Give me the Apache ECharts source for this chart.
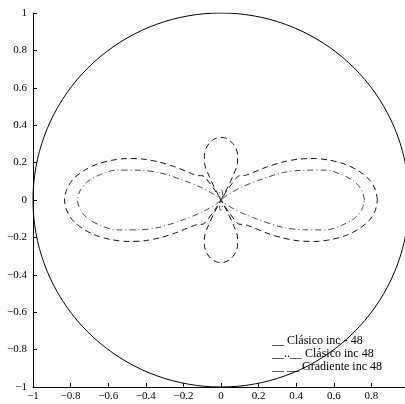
<!DOCTYPE html>
<html>
<head>
<meta charset="utf-8">
<script src="https://cdn.jsdelivr.net/npm/echarts@6/dist/echarts.min.js"></script>
<style>
  html, body { margin: 0; padding: 0; background: #fff; }
  #main { width: 405px; height: 404px; }
</style>
</head>
<body>
<div id="main"></div>
<script>
// angles (deg) and radii read for the first quadrant, mirrored to the others
var circleAngles = [0, 10, 20, 30, 40, 50, 60, 70, 80, 90, 100, 110, 120, 130, 140, 150, 160, 170, 180,
  190, 200, 210, 220, 230, 240, 250, 260, 270, 280, 290, 300, 310, 320, 330, 340, 350, 360];
var circleRadius = 1;

// Gradiente inc 48 (dashed)
var gradAngles = [0, 4, 8, 12, 16, 20, 24, 28, 32, 36, 40, 44, 48, 52, 55, 58, 60, 62, 64, 66, 70, 74, 78, 82, 86, 90];
var gradR = [0.832, 0.822, 0.795, 0.748, 0.690, 0.620, 0.545, 0.465, 0.380, 0.300, 0.235, 0.195, 0.175, 0.165, 0.150, 0.060, 0, 0.070, 0.160, 0.215, 0.258, 0.288, 0.308, 0.323, 0.332, 0.335];

// Clásico inc 48 (dash-dot)
var clasAngles = [0, 4, 8, 12, 16, 20, 24, 28, 32, 36, 40, 44, 60, 70, 80, 90];
var clasR = [0.763, 0.750, 0.715, 0.655, 0.580, 0.465, 0.360, 0.220, 0.130, 0.070, 0.030, 0, 0.010, 0.020, 0.045, 0.055];

var xTicks = [-1, -0.8, -0.6, -0.4, -0.2, 0, 0.2, 0.4, 0.6, 0.8, 1];
var yTicks = [-1, -0.8, -0.6, -0.4, -0.2, 0, 0.2, 0.4, 0.6, 0.8, 1];

var legendLabels = ['__ Clásico inc - 48', '__..__ Clásico inc 48', '__ __ Gradiente inc 48'];

function toXY(deg, r) {
  var t = deg * Math.PI / 180;
  return [r * Math.cos(t), r * Math.sin(t)];
}

// build closed curve from first-quadrant samples by symmetry
function fullCurve(angles, radii) {
  var pts = [];
  var i;
  for (i = 0; i < angles.length; i++) pts.push(toXY(angles[i], radii[i]));
  for (i = angles.length - 2; i >= 0; i--) pts.push(toXY(180 - angles[i], radii[i]));
  for (i = 1; i < angles.length; i++) pts.push(toXY(180 + angles[i], radii[i]));
  for (i = angles.length - 2; i >= 0; i--) pts.push(toXY(360 - angles[i], radii[i]));
  return pts;
}

var circleData = circleAngles.map(function (a) { return toXY(a, circleRadius); });
var gradData = fullCurve(gradAngles, gradR);
var clasData = fullCurve(clasAngles, clasR);

var font = '"Liberation Serif", "DejaVu Serif", serif';

function fmt(v) {
  var s = (Math.round(v * 10) / 10).toString();
  return s.replace('-', '\u2212');
}

var axisCommon = {
  type: 'value',
  min: -1,
  max: 1,
  interval: 0.2,
  axisLine: { show: true, onZero: false, lineStyle: { color: '#000', width: 1 } },
  axisTick: { show: true, inside: true, length: 4, lineStyle: { color: '#000' } },
  splitLine: { show: false },
  axisLabel: { color: '#000', fontFamily: font, fontSize: 11, formatter: fmt }
};

var myChart = echarts.init(document.getElementById('main'));
myChart.setOption({
  animation: false,
  backgroundColor: '#fff',
  grid: { left: 33, width: 376, top: 13, height: 374, outerBoundsMode: 'none', containLabel: false },
  xAxis: echarts.util.merge({ axisLabel: { margin: 4 } }, axisCommon, true),
  yAxis: echarts.util.merge({ axisLabel: { margin: 6 } }, axisCommon, true),
  series: [
    {
      name: 'circulo',
      type: 'line',
      data: circleData,
      showSymbol: false,
      smooth: 0.35,
      lineStyle: { color: '#000', width: 1, type: 'solid' },
      silent: true
    },
    {
      name: 'Gradiente inc 48',
      type: 'line',
      data: gradData,
      showSymbol: false,
      smooth: 0.3,
      lineStyle: { color: '#111', width: 1, type: [6, 4] },
      silent: true
    },
    {
      name: 'Clásico inc 48',
      type: 'line',
      data: clasData,
      showSymbol: false,
      smooth: 0.3,
      lineStyle: { color: '#444', width: 1, type: [6, 3, 1, 3] },
      silent: true
    }
  ],
  graphic: legendLabels.map(function (txt, i) {
    return {
      type: 'text',
      left: 272,
      top: 335 + i * 13,
      style: { text: txt, font: '12px ' + font, fill: '#000' },
      z: 100
    };
  })
});
</script>
</body>
</html>
